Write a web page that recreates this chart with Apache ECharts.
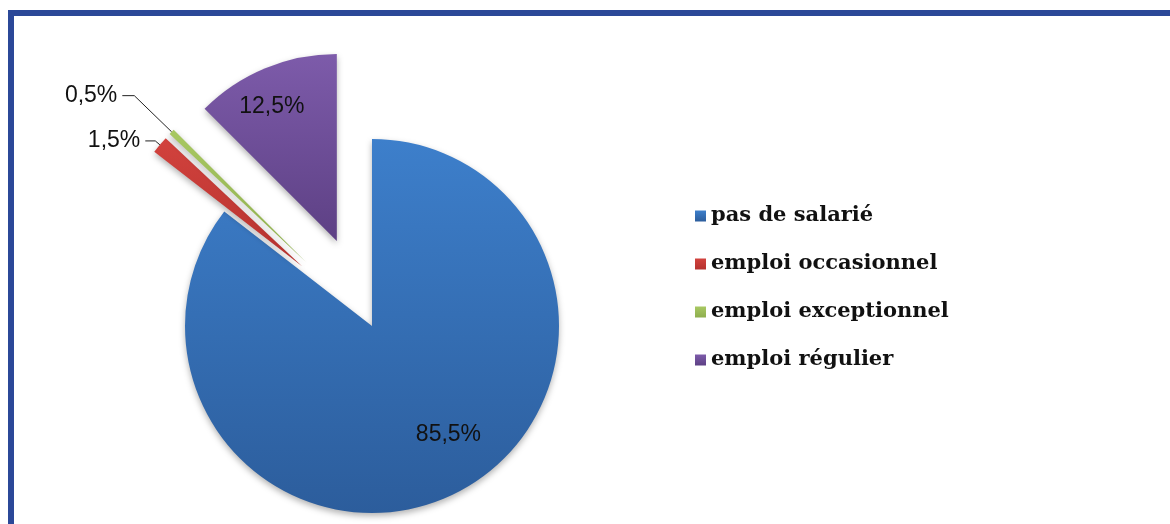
<!DOCTYPE html>
<html>
<head>
<meta charset="utf-8">
<script src="https://cdn.jsdelivr.net/npm/echarts@6/dist/echarts.min.js"></script>
<style>
    html, body { margin: 0; padding: 0; background: #fff; overflow: hidden; }
    #chart { position: absolute; left: 0; top: 0; width: 1170px; height: 524px; }
    #frame { position: absolute; left: 8px; top: 10px; width: 1180px; height: 540px;
             border-top: 6px solid #2b4898; border-left: 6px solid #2b4898; pointer-events: none; }
</style>
</head>
<body>
<div id="chart"></div>
<div id="frame"></div>
<script>
// categories et valeurs (%)
var categories = ['pas de salarié', 'emploi occasionnel', 'emploi exceptionnel', 'emploi régulier'];
var values = [85.5, 1.5, 0.5, 12.5];
var labels = ['85,5%', '1,5%', '0,5%', '12,5%'];

// couleurs (haut, bas) de chaque part
var colorsTop = ['#3d7fcb', '#d2423d', '#a8c862', '#7d5baa'];
var colorsBottom = ['#2c5d9c', '#b5322f', '#8eae4e', '#5d4084'];

function grad(i) {
    return new echarts.graphic.LinearGradient(0, 0, 0, 1, [
        {offset: 0, color: colorsTop[i]},
        {offset: 1, color: colorsBottom[i]}
    ]);
}

// réglages d'étiquette par part
var labelCfg = [
    {position: 'inside', offset: [34, 22]},
    {position: 'outside'},
    {position: 'outside'},
    {position: 'inside'}
];
var lineCfg = [
    {show: false},
    {show: true, length: 6, length2: 10},
    {show: true, length: 52, length2: 12},
    {show: false}
];

var dataL = [];
categories.forEach(function (name, i) {
    dataL.push({
        name: name,
        value: values[i],
        selected: i != 0,
        itemStyle: {color: grad(i)},
        label: Object.assign({formatter: labels[i]}, labelCfg[i]),
        labelLine: lineCfg[i]
    });
});

var myChart = echarts.init(document.getElementById('chart'));
myChart.setOption({
    animation: false,
    legend: {
        orient: 'vertical',
        left: 690,
        top: 200,
        icon: 'rect',
        itemWidth: 11,
        itemHeight: 11,
        itemGap: 26,
        selectedMode: false,
        data: categories,
        textStyle: {
            fontFamily: 'DejaVu Serif',
            fontSize: 21,
            fontWeight: 'bold',
            lineHeight: 22,
            color: '#111'
        }
    },
    series: [
        {
            type: 'pie',
            center: [372, 326],
            radius: 187,
            startAngle: 90,
            clockwise: true,
            selectedMode: 'multiple',
            selectedOffset: 92,
            avoidLabelOverlap: false,
            emphasis: {disabled: true},
            itemStyle: {
                shadowBlur: 6,
                shadowOffsetY: 3,
                shadowColor: 'rgba(0,0,0,0.3)'
            },
            label: {
                fontFamily: 'Liberation Sans',
                fontSize: 23,
                color: '#111'
            },
            labelLine: {
                lineStyle: {color: '#222', width: 1}
            },
            // étiquette "12,5%" remontée dans la part
            labelLayout: function (params) {
                if (params.dataIndex == 3) {
                    return {dx: -28, dy: -45};
                }
            },
            data: dataL
        }
    ]
});
</script>
</body>
</html>
